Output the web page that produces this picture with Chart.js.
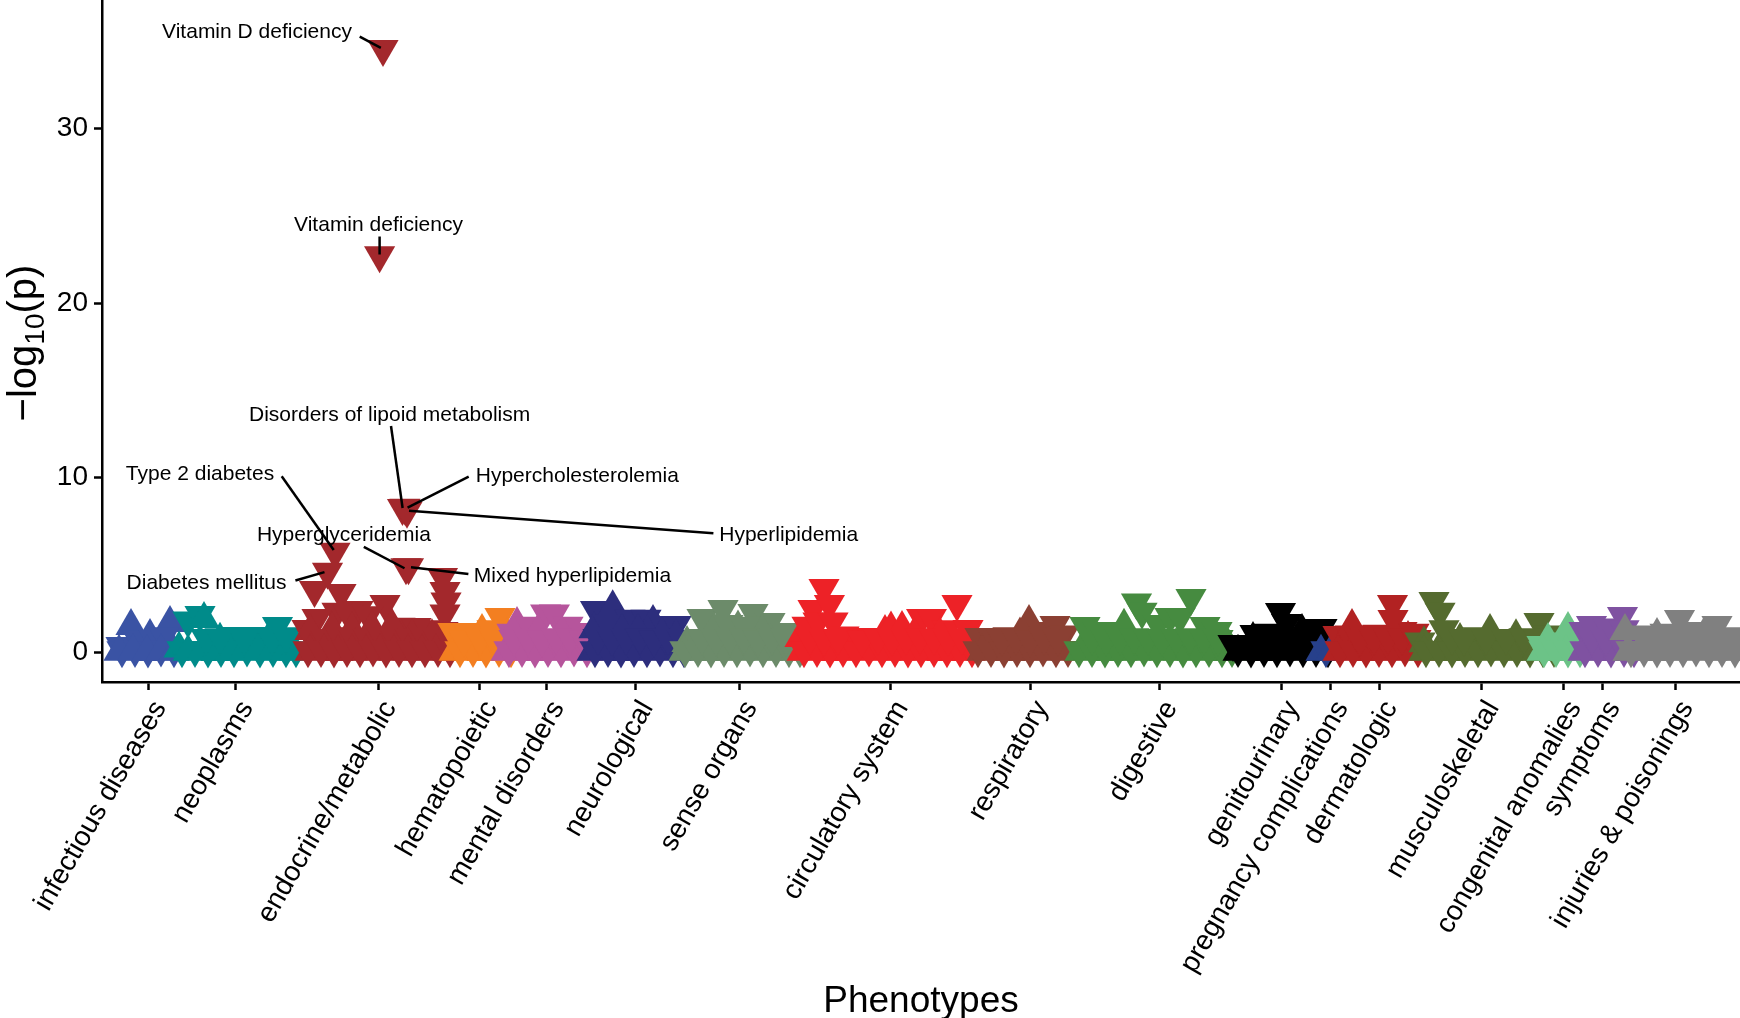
<!DOCTYPE html>
<html>
<head>
<meta charset="utf-8">
<title>PheWAS plot</title>
<script src="https://cdn.jsdelivr.net/npm/chart.js@4.4.1/dist/chart.umd.min.js"></script>
<style>
  html, body { margin: 0; padding: 0; background: #fff; }
  #wrap { width: 1740px; height: 1018px; position: relative; }
</style>
</head>
<body>
<div id="wrap"><canvas id="phewasCanvas"></canvas></div>
<script>
// phenotype groups, where their ticks sit on the phenotype axis, and colours
var groups = ['infectious diseases', 'neoplasms', 'endocrine/metabolic', 'hematopoietic', 'mental disorders',
  'neurological', 'sense organs', 'circulatory system', 'respiratory', 'digestive', 'genitourinary',
  'pregnancy complications', 'dermatologic', 'musculoskeletal', 'congenital anomalies', 'symptoms',
  'injuries & poisonings'];
var groupTicks = [46, 133, 276, 377, 444, 533, 637, 788, 928, 1057, 1179, 1228, 1277, 1379, 1461, 1500, 1573];
var groupColors = ['#3A53A4', '#008B8A', '#A3282C', '#F37F21', '#B6559C', '#2D2E7D', '#6C8B6A', '#ED2227',
  '#8B4033', '#468B40', '#000000', '#27408B', '#B22222', '#556B2F', '#6CC387', '#7F52A1', '#808080'];
var yTicks = [0, 10, 20, 30];

// [phenotype position, -log10(p), direction: 1 = up, -1 = down]
var infectious = [[19,0.34,-1],[29,1.49,1],[48,0.92,1],[68,1.66,1],[36,0.7,-1],[52,0.75,-1],[62,0.9,-1],
  [20,0.1,-1],[33,0.12,-1],[46,0.08,-1],[59,0.15,-1],[72,0.1,-1],
  [17,0.02,1],[31,0.04,1],[45,0.0,1],[59,0.03,1],[72,0.02,1]];
var neoplasms = [[77,0.2,1],[86,1.8,-1],[98,2.12,-1],[102,1.89,1],[118,0.7,1],[134,0.92,-1],[150,0.92,-1],
  [160,0.6,-1],[167,0.8,1],[175.5,1.49,-1],[186,0.6,-1],
  [80,0.1,-1],[93,0.12,-1],[106,0.08,-1],[119,0.12,-1],[132,0.1,-1],[145,0.15,-1],[158,0.08,-1],[171,0.12,-1],[184,0.1,-1],[194,0.1,-1],
  [86,0.02,1],[100,0.04,1],[114,0.0,1],[128,0.03,1],[142,0.02,1],[156,0.05,1],[170,0.02,1],[184,0.03,1],[192,0.02,1],
  [104,0.8,-1],[118,0.85,-1],[142,0.8,-1],[170,0.8,-1],[184,0.9,-1]];
var endocrine = [[281,34.56,-1],[277.6,22.73,-1],
  [300.5,8.25,-1],[303,8.27,-1],[305,8.1,-1],
  [233,5.75,-1],[225.5,4.6,-1],[304,4.85,-1],[306.5,4.86,-1],
  [212.5,3.55,-1],[239,3.38,-1],
  [340.5,4.3,-1],[343,3.5,-1],[344,2.9,-1],[343,2.2,-1],[341,1.2,-1],
  [283,2.75,-1],[256,2.4,-1],[235,2.3,-1],[215,1.95,-1],[246,2.2,-1],[266,2.1,-1],[298,1.45,-1],[314,1.43,-1],[326,1.3,-1],[205,1.32,-1],
  [208,1.2,1],[230,1.3,1],[250,1.3,1],[270,1.4,1],[290,1.5,1],[310,0.9,1],[330,0.9,1],
  [210,0.8,-1],[224,0.7,-1],[238,0.9,-1],[252,0.75,-1],[266,0.8,-1],[280,0.85,-1],[294,0.7,-1],[308,0.8,-1],[322,0.9,-1],[336,0.75,-1],
  [208,0.02,1],[222,0.04,1],[236,0.0,1],[250,0.03,1],[264,0.02,1],[278,0.05,1],[292,0.02,1],[306,0.03,1],[320,0.02,1],[334,0.04,1],[346,0.02,1],
  [206,0.1,-1],[219,0.12,-1],[232,0.08,-1],[245,0.12,-1],[258,0.1,-1],[271,0.15,-1],[284,0.08,-1],[297,0.12,-1],[310,0.1,-1],[323,0.1,-1],[336,0.12,-1],[348,0.1,-1]];
var hematopoietic = [[351,1.15,-1],[366,1.15,-1],[380,1.2,1],[398,2.0,-1],[390,1.3,-1],[405,1.0,1],
  [352,0.02,1],[366,0.04,1],[380,0.0,1],[394,0.03,1],[406,0.02,1],
  [358,0.1,-1],[371,0.12,-1],[384,0.08,-1],[397,0.12,-1],[409,0.1,-1],
  [362,0.7,-1],[378,0.75,-1],[392,0.8,-1]];
var mental = [[410,1.1,-1],[415,1.6,1],[428,1.5,-1],[443.6,2.2,-1],[452.4,2.2,-1],[466,1.5,-1],[479.5,1.15,-1],[436,1.2,1],[460,1.1,1],
  [404,0.02,1],[418,0.04,1],[432,0.0,1],[446,0.03,1],[460,0.02,1],[474,0.05,1],[486,0.02,1],
  [407,0.1,-1],[420,0.12,-1],[433,0.08,-1],[446,0.12,-1],[459,0.1,-1],[472,0.15,-1],[485,0.1,-1],
  [412,0.75,-1],[426,0.8,-1],[440,0.7,-1],[454,0.85,-1],[468,0.8,-1],[482,0.7,-1]];
var neurological = [[493.5,2.4,-1],[510.7,2.56,1],[528,1.9,-1],[544,1.9,-1],[551,1.72,1],[562,1.55,-1],[574,1.55,-1],
  [492,1.3,1],[506,1.6,-1],[520,1.2,1],[536,1.2,1],[560,1.0,1],[574,0.9,1],
  [490,0.02,1],[504,0.04,1],[518,0.0,1],[532,0.03,1],[546,0.02,1],[560,0.05,1],[574,0.02,1],[584,0.03,1],
  [493,0.1,-1],[506,0.12,-1],[519,0.08,-1],[532,0.12,-1],[545,0.1,-1],[558,0.15,-1],[571,0.1,-1],[582,0.1,-1],
  [496,0.8,-1],[510,0.75,-1],[524,0.8,-1],[538,0.85,-1],[552,0.7,-1],[566,0.8,-1],[580,0.75,-1]];
var senseOrgans = [[585,0.52,1],[600,1.95,-1],[621,2.46,-1],[651,2.23,-1],[668,1.72,-1],[684,1.15,-1],[612,1.3,1],[636,1.4,1],[660,1.2,1],
  [626,1.6,-1],[643,1.5,-1],
  [582,0.02,1],[596,0.04,1],[610,0.0,1],[624,0.03,1],[638,0.02,1],[652,0.05,1],[666,0.02,1],[680,0.03,1],[692,0.02,1],
  [583,0.1,-1],[596,0.12,-1],[609,0.08,-1],[622,0.12,-1],[635,0.1,-1],[648,0.15,-1],[661,0.1,-1],[674,0.12,-1],[687,0.1,-1],[698,0.1,-1],
  [600,0.8,-1],[614,0.75,-1],[628,0.8,-1],[642,0.85,-1],[656,0.7,-1],[670,0.8,-1],[684,0.75,-1]];
var circulatory = [[698,0.8,1],[705,1.5,-1],[711,2.46,-1],[722,3.67,-1],[727.4,2.75,-1],[716,1.75,-1],[731,1.75,-1],[742,0.95,-1],
  [752,0.86,-1],[770,0.86,-1],[783,1.15,1],[789,1.35,1],[800,1.38,1],[819.6,1.95,-1],[829.4,1.95,-1],[845,1.3,-1],[855,2.75,-1],
  [866,1.32,-1],[812,1.0,1],[838,1.0,1],
  [700,0.02,1],[714,0.04,1],[728,0.0,1],[742,0.03,1],[756,0.02,1],[770,0.05,1],[784,0.02,1],[798,0.03,1],[812,0.02,1],[826,0.04,1],[840,0.0,1],[854,0.03,1],[868,0.02,1],
  [702,0.1,-1],[715,0.12,-1],[728,0.08,-1],[741,0.12,-1],[754,0.1,-1],[767,0.15,-1],[780,0.1,-1],[793,0.12,-1],[806,0.08,-1],[819,0.1,-1],[832,0.12,-1],[845,0.1,-1],[858,0.12,-1],[870,0.1,-1],
  [708,0.8,-1],[722,0.75,-1],[736,0.8,-1],[760,0.7,-1],[776,0.8,-1],[790,0.75,-1],[804,0.8,-1],[818,0.85,-1],[832,0.8,-1],[846,0.75,-1],[860,0.8,-1]];
var respiratory = [[878,0.86,-1],[890,0.86,-1],[906,0.9,-1],[918,1.0,1],[927,1.72,1],[940,1.2,-1],[953,1.55,-1],[962,1.0,-1],
  [880,0.02,1],[894,0.04,1],[908,0.0,1],[922,0.03,1],[936,0.02,1],[950,0.05,1],[964,0.02,1],
  [876,0.1,-1],[889,0.12,-1],[902,0.08,-1],[915,0.12,-1],[928,0.1,-1],[941,0.15,-1],[954,0.1,-1],[966,0.12,-1],
  [900,0.75,-1],[914,0.8,-1],[928,0.7,-1],[942,0.8,-1],[956,0.75,-1]];
var digestive = [[983,1.49,-1],[996,1.2,-1],[1009.5,1.2,-1],[1022,1.5,1],[1034.5,2.83,-1],[1040,2.3,-1],[1056,1.6,-1],[1068,2.0,-1],
  [1078,2.0,-1],[1089,3.1,-1],[1103,1.49,-1],[1115,1.2,-1],[1125,0.5,1],
  [978,0.02,1],[992,0.04,1],[1006,0.0,1],[1020,0.03,1],[1034,0.02,1],[1048,0.05,1],[1062,0.02,1],[1076,0.03,1],[1090,0.02,1],[1104,0.04,1],[1118,0.0,1],[1130,0.03,1],
  [977,0.1,-1],[990,0.12,-1],[1003,0.08,-1],[1016,0.12,-1],[1029,0.1,-1],[1042,0.15,-1],[1055,0.1,-1],[1068,0.12,-1],[1081,0.08,-1],[1094,0.1,-1],[1107,0.12,-1],[1120,0.1,-1],[1130,0.12,-1],
  [990,0.8,-1],[1004,0.75,-1],[1018,0.8,-1],[1032,0.85,-1],[1046,0.8,-1],[1060,0.75,-1],[1074,0.8,-1],[1088,0.85,-1],[1102,0.8,-1],[1116,0.75,-1]];
var genitourinary = [[1131,0.46,-1],[1151,0.75,1],[1153,1.03,-1],[1166,1.1,-1],[1178.5,2.29,-1],[1184.5,1.66,-1],[1200,1.2,1],[1210,1.38,-1],[1220,1.38,-1],
  [1136,0.02,1],[1150,0.04,1],[1164,0.0,1],[1178,0.03,1],[1192,0.02,1],[1206,0.05,1],[1220,0.02,1],
  [1136,0.12,-1],[1149,0.08,-1],[1162,0.12,-1],[1175,0.1,-1],[1188,0.15,-1],[1201,0.1,-1],[1214,0.12,-1],[1226,0.1,-1],
  [1162,0.8,-1],[1176,0.75,-1],[1190,0.8,-1],[1204,0.85,-1],[1218,0.8,-1]];
var pregnancy = [[1219,0.02,1],[1224,0.1,-1],[1229,0.05,1]];
var dermatologic = [[1236,0.97,-1],[1248,1.0,-1],[1250,1.49,1],[1262,1.0,-1],[1276,1.05,-1],[1290.5,2.75,-1],[1291,1.89,-1],[1300,1.2,-1],[1306,0.8,1],[1312,1.1,-1],
  [1236,0.02,1],[1250,0.04,1],[1264,0.0,1],[1278,0.03,1],[1292,0.02,1],[1306,0.05,1],[1318,0.02,1],
  [1238,0.1,-1],[1251,0.12,-1],[1264,0.08,-1],[1277,0.12,-1],[1290,0.1,-1],[1303,0.15,-1],[1316,0.1,-1],
  [1258,0.75,-1],[1272,0.8,-1],[1286,0.85,-1],[1300,0.8,-1],[1314,0.75,-1]];
var musculoskeletal = [[1318,0.6,-1],[1322,0.5,1],[1332,2.92,-1],[1338,2.3,-1],[1342,1.3,-1],[1358,0.69,1],[1366,0.75,-1],[1376,0.9,-1],
  [1388,1.2,1],[1398,0.75,-1],[1414,0.9,1],[1437,1.72,-1],[1446,1.0,-1],
  [1322,0.02,1],[1336,0.04,1],[1350,0.0,1],[1364,0.03,1],[1378,0.02,1],[1392,0.05,1],[1406,0.02,1],[1420,0.03,1],[1434,0.02,1],[1446,0.04,1],
  [1324,0.1,-1],[1337,0.12,-1],[1350,0.08,-1],[1363,0.12,-1],[1376,0.1,-1],[1389,0.15,-1],[1402,0.1,-1],[1415,0.12,-1],[1428,0.08,-1],[1441,0.1,-1],[1452,0.12,-1],
  [1350,0.8,-1],[1362,0.75,-1],[1384,0.8,-1],[1404,0.8,-1],[1422,0.85,-1],[1436,0.8,-1]];
var congenital = [[1446,0.69,1],[1466,1.32,1],[1440,0.4,-1],[1456,0.6,-1],[1470,0.5,-1],
  [1440,0.02,1],[1452,0.04,1],[1464,0.0,1],[1476,0.03,1],
  [1442,0.1,-1],[1454,0.12,-1],[1466,0.08,-1],[1478,0.1,-1]];
var symptoms = [[1482,1.2,-1],[1489.5,1.55,-1],[1506,1.4,-1],[1520.5,2.06,-1],[1522,1.3,-1],
  [1481,0.02,1],[1494,0.04,1],[1507,0.0,1],[1520,0.03,1],[1530,0.02,1],
  [1483,0.1,-1],[1496,0.12,-1],[1509,0.08,-1],[1522,0.12,-1],[1532,0.1,-1],
  [1490,0.8,-1],[1504,0.75,-1],[1516,0.8,-1]];
var injuries = [[1523,1.2,1],[1540,1.0,-1],[1555,0.97,1],[1563,1.1,-1],[1577.5,1.89,-1],[1590,1.2,-1],[1602,1.0,1],[1615,1.55,-1],[1628,0.9,-1],[1636,0.6,-1],
  [1526,0.02,1],[1540,0.04,1],[1554,0.0,1],[1568,0.03,1],[1582,0.02,1],[1596,0.05,1],[1610,0.02,1],[1624,0.03,1],[1638,0.02,1],
  [1529,0.1,-1],[1542,0.12,-1],[1555,0.08,-1],[1568,0.12,-1],[1581,0.1,-1],[1594,0.15,-1],[1607,0.1,-1],[1620,0.12,-1],[1633,0.08,-1],
  [1546,0.75,-1],[1560,0.8,-1],[1574,0.85,-1],[1588,0.8,-1],[1602,0.75,-1],[1616,0.8,-1],[1630,0.75,-1]];

var series = [infectious, neoplasms, endocrine, hematopoietic, mental, neurological, senseOrgans, circulatory,
  respiratory, digestive, genitourinary, pregnancy, dermatologic, musculoskeletal, congenital, symptoms, injuries];

// labelled phenotypes: text, text centre [x, y], leader segment [x1, y1, x2, y2]
var noteText = ['Vitamin D deficiency', 'Vitamin deficiency', 'Disorders of lipoid metabolism', 'Hypercholesterolemia',
  'Hyperlipidemia', 'Hyperglyceridemia', 'Type 2 diabetes', 'Diabetes mellitus', 'Mixed hyperlipidemia'];
var noteAt = [[155, 35.53], [276.5, 24.45], [287.6, 13.58], [475.3, 10.09], [686.7, 6.70], [241.9, 6.72], [98, 10.17], [104.5, 3.93], [470.5, 4.36]];
var noteLine = [[257.7, 35.27, 278.8, 34.62], [277.6, 23.81, 277.6, 22.78], [289, 12.95, 300.6, 8.25], [366.7, 10.05, 305.6, 8.27],
  [611.4, 6.80, 307, 8.10], [261.8, 6.03, 302.5, 4.8], [179.7, 10.07, 231.7, 5.85], [193.4, 4.10, 222.5, 4.58], [366.4, 4.47, 309, 4.86]];

var FONT = '"Liberation Sans", Arial, Helvetica, sans-serif';
Chart.defaults.font.family = FONT;
Chart.defaults.color = '#000';

var datasets = groups.map(function (g, i) {
  return {
    label: g,
    data: series[i].map(function (p) { return { x: p[0], y: p[1], d: p[2] }; }),
    pointStyle: 'triangle',
    pointRadius: 18,
    pointBorderWidth: 0,
    pointBackgroundColor: groupColors[i],
    backgroundColor: groupColors[i],
    borderColor: groupColors[i],
    pointRotation: function (ctx) { return ctx.raw && ctx.raw.d < 0 ? 180 : 0; },
    order: groups.length - i,
    clip: 0
  };
});

var notesPlugin = {
  id: 'notes',
  afterDatasetsDraw: function (chart) {
    var ctx = chart.ctx, xs = chart.scales.x, ys = chart.scales.y;
    ctx.save();
    ctx.strokeStyle = '#000';
    ctx.lineWidth = 2.5;
    noteLine.forEach(function (l) {
      ctx.beginPath();
      ctx.moveTo(xs.getPixelForValue(l[0]), ys.getPixelForValue(l[1]));
      ctx.lineTo(xs.getPixelForValue(l[2]), ys.getPixelForValue(l[3]));
      ctx.stroke();
    });
    ctx.fillStyle = '#000';
    ctx.font = '21px ' + FONT;
    ctx.textAlign = 'center';
    ctx.textBaseline = 'middle';
    noteText.forEach(function (t, i) {
      ctx.fillText(t, xs.getPixelForValue(noteAt[i][0]), ys.getPixelForValue(noteAt[i][1]));
    });
    ctx.restore();
  },
  afterDraw: function (chart) {
    // y title with subscript: -log10(p)
    var ctx = chart.ctx;
    var big = '40px ' + FONT, small = '28px ' + FONT;
    ctx.save();
    ctx.translate(36, 343);
    ctx.rotate(-Math.PI / 2);
    ctx.fillStyle = '#000';
    ctx.textBaseline = 'alphabetic';
    ctx.textAlign = 'left';
    ctx.font = big;
    var a = ctx.measureText('\u2212log').width;
    var c = ctx.measureText('(p)').width;
    ctx.font = small;
    var b = ctx.measureText('10').width;
    var x0 = -(a + b + c) / 2;
    ctx.font = big;
    ctx.fillText('\u2212log', x0, 0);
    ctx.font = small;
    ctx.fillText('10', x0 + a, 8);
    ctx.font = big;
    ctx.fillText('(p)', x0 + a + b, 0);
    ctx.restore();
  }
};

var axisGrid = { display: true, drawOnChartArea: false, drawTicks: true, tickLength: 8, tickWidth: 2.5, tickColor: '#000' };
var axisBorder = { display: true, color: '#000', width: 2.5 };

new Chart(document.getElementById('phewasCanvas'), {
  type: 'scatter',
  data: { datasets: datasets },
  options: {
    responsive: true,
    maintainAspectRatio: false,
    animation: false,
    events: [],
    layout: { padding: 0, autoPadding: false },
    plugins: { legend: { display: false }, tooltip: { enabled: false } },
    scales: {
      x: {
        type: 'linear',
        min: 0,
        max: 1638,
        afterBuildTicks: function (s) { s.ticks = groupTicks.map(function (v) { return { value: v }; }); },
        afterFit: function (s) { s.height = 336; s.paddingLeft = 0; s.paddingRight = 0; },
        ticks: {
          autoSkip: false,
          minRotation: 60,
          maxRotation: 60,
          padding: 5,
          labelOffset: 12,
          color: '#000',
          font: { size: 28 },
          callback: function (v, i) { return groups[i]; }
        },
        grid: axisGrid,
        border: axisBorder,
        title: { display: true, text: 'Phenotypes', color: '#000', font: { size: 37 }, padding: { top: 0, bottom: -6 } }
      },
      y: {
        type: 'linear',
        min: -1.719,
        max: 37.364,
        afterBuildTicks: function (s) { s.ticks = yTicks.map(function (v) { return { value: v }; }); },
        afterFit: function (s) { s.width = 102; s.paddingTop = 0; s.paddingBottom = 0; },
        ticks: { padding: 6, color: '#000', font: { size: 28 } },
        grid: axisGrid,
        border: axisBorder
      }
    }
  },
  plugins: [notesPlugin]
});
</script>
</body>
</html>
